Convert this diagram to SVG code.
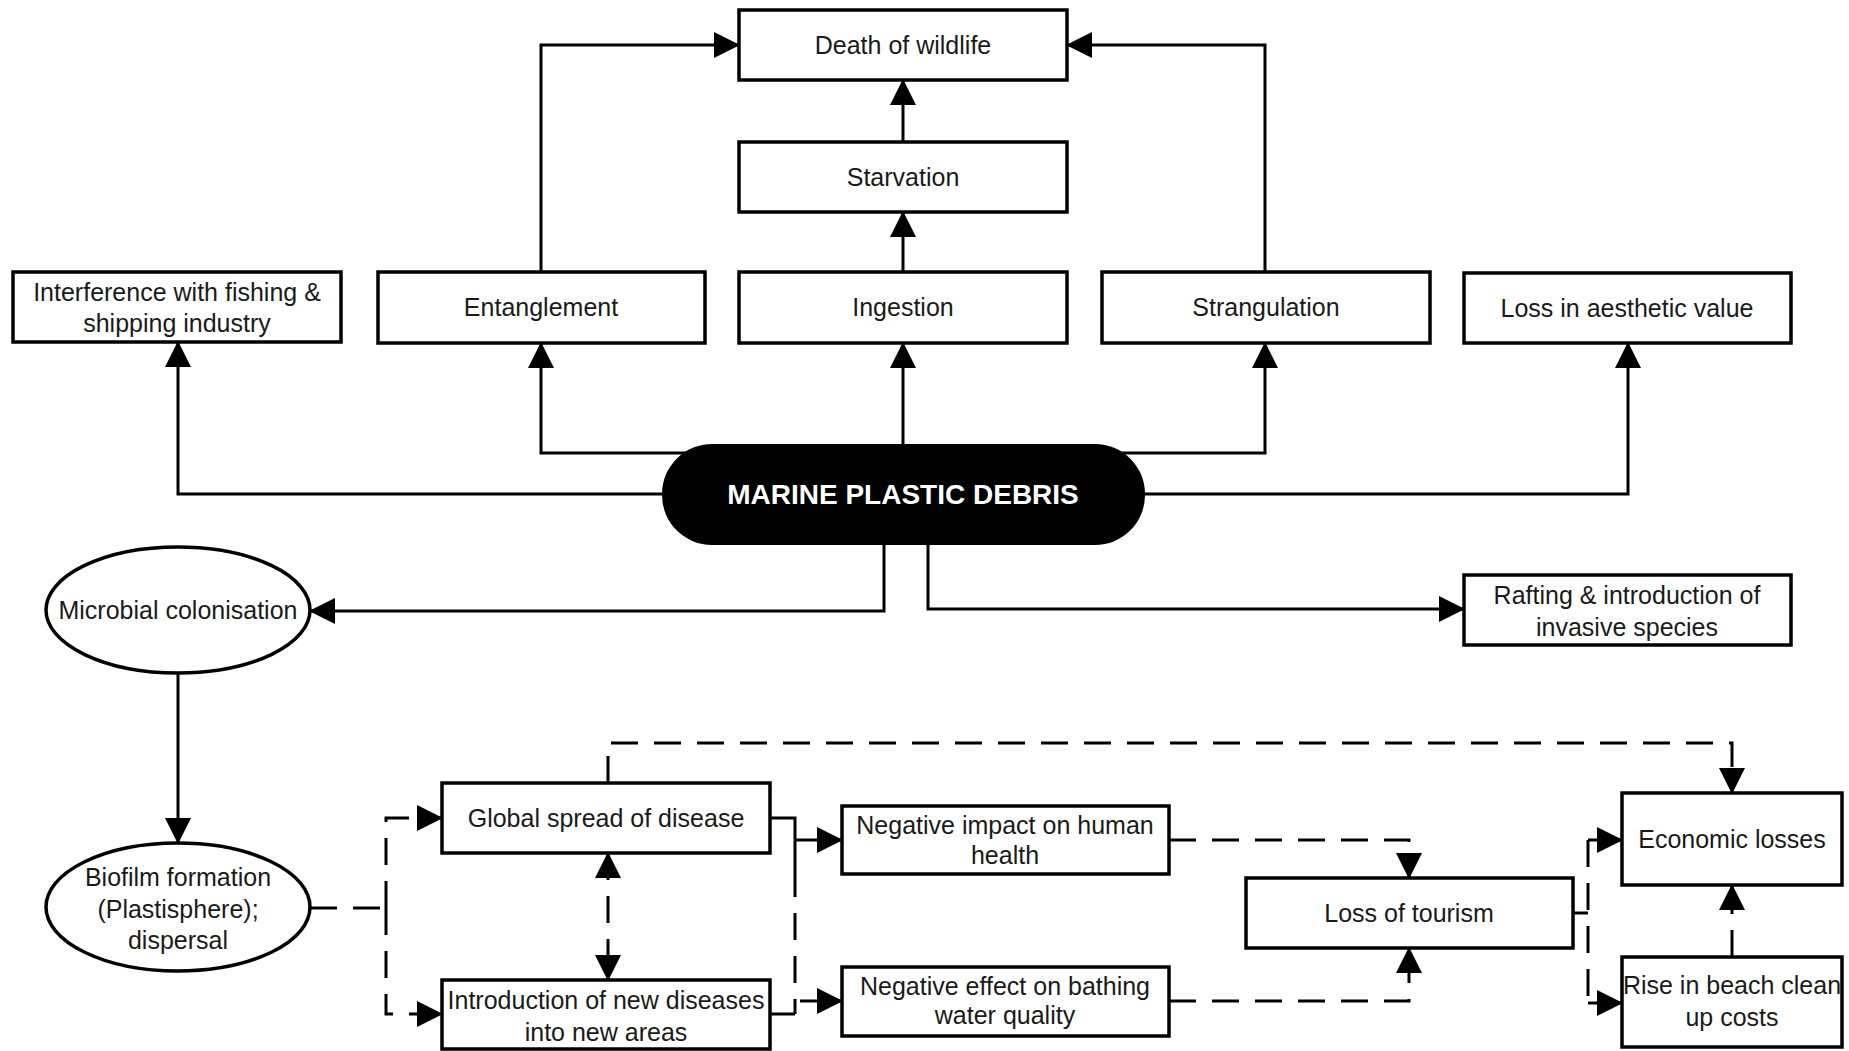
<svg xmlns="http://www.w3.org/2000/svg" width="1849" height="1051" viewBox="0 0 1849 1051">
<defs>
<style>
.box{fill:#fff;stroke:#000;stroke-width:3.5}
.t{font-family:"Liberation Sans",Arial,sans-serif;font-size:25px;fill:#1a1a1a;text-anchor:middle;dominant-baseline:central}
.tb{font-family:"Liberation Sans",Arial,sans-serif;font-size:28px;font-weight:bold;fill:#fff;text-anchor:middle;dominant-baseline:central}
.c{fill:none;stroke:#000;stroke-width:3}
.d{fill:none;stroke:#000;stroke-width:3;stroke-dasharray:27 16}
</style>
<marker id="ah" markerUnits="userSpaceOnUse" markerWidth="26" markerHeight="26" refX="25" refY="13" orient="auto-start-reverse">
<path d="M0,0 L26,13 L0,26 z" fill="#000"/>
</marker>
</defs>
<rect width="1849" height="1051" fill="#fff"/>
<g id="connectors">
<path class="c" d="M541,272 V45 H739" marker-end="url(#ah)"/>
<path class="c" d="M1265,272 V45 H1067" marker-end="url(#ah)"/>
<path class="c" d="M903,142 V80" marker-end="url(#ah)"/>
<path class="c" d="M903,272 V212" marker-end="url(#ah)"/>
<path class="c" d="M903,444 V343" marker-end="url(#ah)"/>
<path class="c" d="M690,453 H541 V343" marker-end="url(#ah)"/>
<path class="c" d="M670,494 H178 V342" marker-end="url(#ah)"/>
<path class="c" d="M1115,453 H1265 V343" marker-end="url(#ah)"/>
<path class="c" d="M1140,494 H1628 V343" marker-end="url(#ah)"/>
<path class="c" d="M884,540 V611 H310" marker-end="url(#ah)"/>
<path class="c" d="M928,540 V609 H1464" marker-end="url(#ah)"/>
<path class="c" d="M178,673 V843" marker-end="url(#ah)"/>
<path class="d" d="M310,908 H386"/>
<path class="d" d="M386,908 V818 H442" marker-end="url(#ah)"/>
<path class="d" d="M386,908 V1014 H442" marker-end="url(#ah)"/>
<path class="d" d="M608,853 V980" marker-start="url(#ah)" marker-end="url(#ah)"/>
<path class="d" d="M608,783 V743 H1732 V793" marker-end="url(#ah)"/>
<path class="c" d="M770,818 H795 V870"/>
<path class="d" d="M795,870 V1014"/>
<path class="c" d="M770,1014 H795"/>
<path class="c" d="M795,840 H842" marker-end="url(#ah)"/>
<path class="c" d="M800,1001 H842" marker-end="url(#ah)"/>
<path class="d" d="M1169,840 H1409 V878" marker-end="url(#ah)"/>
<path class="d" d="M1169,1001 H1409 V948" marker-end="url(#ah)"/>
<path class="c" d="M1573,913 H1588"/>
<path class="d" d="M1588,840 V1003"/>
<path class="c" d="M1588,840 H1622" marker-end="url(#ah)"/>
<path class="c" d="M1588,1003 H1622" marker-end="url(#ah)"/>
<path class="d" d="M1732,957 V885" marker-end="url(#ah)"/>
</g>
<g id="death"><rect class="box" x="739" y="10" width="328" height="70"/><text class="t" x="903" y="45">Death of wildlife</text></g>
<g id="starvation"><rect class="box" x="739" y="142" width="328" height="70"/><text class="t" x="903" y="177">Starvation</text></g>
<g id="interference"><rect class="box" x="13" y="272" width="328" height="70"/><text class="t" x="177" y="292">Interference with fishing &amp;</text><text class="t" x="177" y="323">shipping industry</text></g>
<g id="entanglement"><rect class="box" x="378" y="272" width="327" height="71"/><text class="t" x="541" y="307">Entanglement</text></g>
<g id="ingestion"><rect class="box" x="739" y="272" width="328" height="71"/><text class="t" x="903" y="307">Ingestion</text></g>
<g id="strangulation"><rect class="box" x="1102" y="272" width="328" height="71"/><text class="t" x="1266" y="307">Strangulation</text></g>
<g id="aesthetic"><rect class="box" x="1464" y="273" width="327" height="70"/><text class="t" x="1627" y="308">Loss in aesthetic value</text></g>
<g id="marine"><rect x="662" y="444" width="483" height="101" rx="50" ry="50" fill="#000"/><text class="tb" x="903" y="494">MARINE PLASTIC DEBRIS</text></g>
<g id="microbial"><ellipse cx="178" cy="610" rx="132" ry="63" class="box"/><text class="t" x="178" y="610">Microbial colonisation</text></g>
<g id="rafting"><rect class="box" x="1464" y="575" width="327" height="70"/><text class="t" x="1627" y="595">Rafting &amp; introduction of</text><text class="t" x="1627" y="627">invasive species</text></g>
<g id="biofilm"><ellipse cx="178" cy="907" rx="132" ry="64" class="box"/><text class="t" x="178" y="877">Biofilm formation</text><text class="t" x="178" y="909">(Plastisphere);</text><text class="t" x="178" y="940">dispersal</text></g>
<g id="global"><rect class="box" x="442" y="783" width="328" height="70"/><text class="t" x="606" y="818">Global spread of disease</text></g>
<g id="intro"><rect class="box" x="442" y="980" width="328" height="69"/><text class="t" x="606" y="1000">Introduction of new diseases</text><text class="t" x="606" y="1032">into new areas</text></g>
<g id="health"><rect class="box" x="842" y="806" width="327" height="68"/><text class="t" x="1005" y="825">Negative impact on human</text><text class="t" x="1005" y="855">health</text></g>
<g id="bathing"><rect class="box" x="842" y="967" width="327" height="69"/><text class="t" x="1005" y="986">Negative effect on bathing</text><text class="t" x="1005" y="1015">water quality</text></g>
<g id="tourism"><rect class="box" x="1246" y="878" width="327" height="70"/><text class="t" x="1409" y="913">Loss of tourism</text></g>
<g id="economic"><rect class="box" x="1622" y="793" width="220" height="92"/><text class="t" x="1732" y="839">Economic losses</text></g>
<g id="rise"><rect class="box" x="1622" y="957" width="220" height="90"/><text class="t" x="1732" y="985">Rise in beach clean</text><text class="t" x="1732" y="1017">up costs</text></g>
</svg>
